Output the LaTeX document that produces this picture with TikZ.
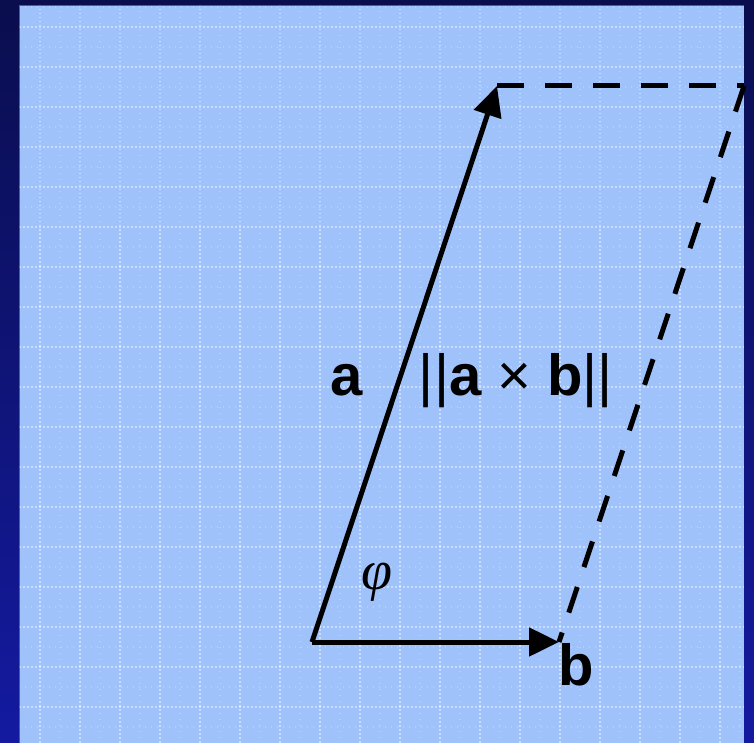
\documentclass[tikz,border=0pt]{standalone}
\usepackage{fontspec}
\setmainfont{Liberation Sans}
\newfontfamily\phifont{Liberation Serif}
\usetikzlibrary{arrows.meta}
\definecolor{navytop}{RGB}{10,14,78}
\definecolor{navybot}{RGB}{20,26,160}
\definecolor{panel}{RGB}{160,194,250}
\tikzset{
  vec/.style={line width=5pt,-{Triangle[length=30pt,width=28pt]}},
  dashline/.style={line width=5pt,dash pattern=on 27pt off 21pt},
  lbl/.style={font=\fontsize{58}{60}\selectfont\bfseries,inner sep=0pt,anchor=base},
  majorgrid/.style={white,opacity=0.45,line width=1.5pt,dash pattern=on 1.5pt off 2.5pt},
  minorgrid/.style={white,opacity=0.2,line width=1.3pt,dash pattern=on 1.3pt off 4.7pt}
}
\begin{document}
\begin{tikzpicture}[x=1pt,y=-1pt]
\useasboundingbox (0,0) rectangle (754,743);
\shade[top color=navytop,bottom color=navybot] (0,0) rectangle (754,743);
\fill[panel] (19,5) rectangle (744,743);
% grid
\begin{scope}
\clip (19,5) rectangle (744,743);
\foreach \x in {60,100,...,740} \draw[minorgrid] (\x,5) -- (\x,743);
\foreach \y in {7,47,...,743} \draw[minorgrid] (19,\y) -- (744,\y);
\foreach \x in {40,80,...,740} \draw[majorgrid] (\x,5) -- (\x,743);
\foreach \y in {27,67,...,743} \draw[majorgrid] (19,\y) -- (744,\y);
\end{scope}
\draw[black,opacity=0.5,line width=1.5pt] (19.5,743) -- (19.5,5.5) -- (744,5.5);
% geometry
\coordinate (O) at (312,642);
\coordinate (A) at (497,86);
\coordinate (B) at (559,642);
\coordinate (C) at (744,86);
\draw[dashline] (A) -- (C);
\draw[dashline] (C) -- (B);
\draw[vec] (O) -- (A);
\draw[vec] (O) -- (B);
% labels
\node[lbl] (la) at (347,395) {a};
\node[lbl] (lab) at (516,395) {{\mdseries||}a {\mdseries×} b{\mdseries||}};
\node[lbl] (lb) at (576,685) {b};
\node[inner sep=0pt,font=\fontsize{56}{58}\selectfont\phifont\itshape] (phi) at (377,582) {φ};
\end{tikzpicture}
\end{document}
